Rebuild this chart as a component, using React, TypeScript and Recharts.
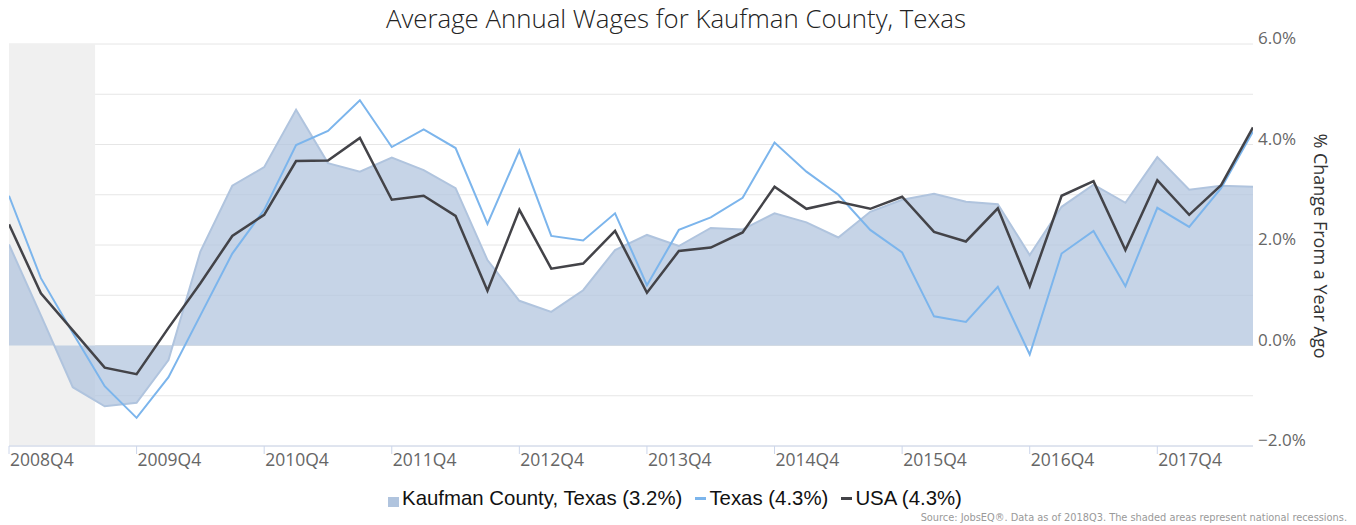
import React from 'react';
import { ComposedChart, Area, Line, XAxis, YAxis, CartesianGrid, ReferenceArea } from 'recharts';

const quarters = [
  '2008Q4',
  '2009Q1', '2009Q2', '2009Q3', '2009Q4',
  '2010Q1', '2010Q2', '2010Q3', '2010Q4',
  '2011Q1', '2011Q2', '2011Q3', '2011Q4',
  '2012Q1', '2012Q2', '2012Q3', '2012Q4',
  '2013Q1', '2013Q2', '2013Q3', '2013Q4',
  '2014Q1', '2014Q2', '2014Q3', '2014Q4',
  '2015Q1', '2015Q2', '2015Q3', '2015Q4',
  '2016Q1', '2016Q2', '2016Q3', '2016Q4',
  '2017Q1', '2017Q2', '2017Q3', '2017Q4',
  '2018Q1', '2018Q2', '2018Q3',
];

const kaufman = [
  2.01, 0.6, -0.83, -1.21, -1.14, -0.29, 1.87, 3.18, 3.55, 4.69,
  3.63, 3.46, 3.74, 3.49, 3.13, 1.7, 0.89, 0.67, 1.1, 1.9,
  2.2, 1.98, 2.34, 2.31, 2.63, 2.45, 2.15, 2.66, 2.9, 3.02,
  2.86, 2.81, 1.8, 2.76, 3.2, 2.84, 3.75, 3.1, 3.18, 3.16,
];

const texas = [
  2.98, 1.34, 0.25, -0.81, -1.44, -0.63, 0.6, 1.83, 2.7, 3.99,
  4.27, 4.88, 3.95, 4.3, 3.93, 2.42, 3.88, 2.18, 2.09, 2.63,
  1.2, 2.3, 2.55, 2.94, 4.04, 3.46, 3.0, 2.3, 1.85, 0.58,
  0.47, 1.17, -0.18, 1.83, 2.28, 1.18, 2.74, 2.36, 3.13, 4.26,
];

const usa = [
  2.41, 1.04, 0.3, -0.44, -0.57, 0.35, 1.24, 2.18, 2.6, 3.67,
  3.68, 4.13, 2.9, 2.98, 2.58, 1.09, 2.7, 1.53, 1.63, 2.28,
  1.05, 1.88, 1.95, 2.25, 3.16, 2.72, 2.86, 2.72, 2.96, 2.26,
  2.07, 2.73, 1.18, 2.98, 3.27, 1.9, 3.29, 2.6, 3.19, 4.34,
];

const xTicks = [0, 4, 8, 12, 16, 20, 24, 28, 32, 36];
const yTicks = [-2, -1, 0, 1, 2, 3, 4, 5, 6];
const yLabelTicks = [-2, 0, 2, 4, 6];
const recessionBand = [0, 2.7];

const seriesNames = ['Kaufman County, Texas (3.2%)', 'Texas (4.3%)', 'USA (4.3%)'];
const seriesColors = ['#b0c4de', '#7cb5ec', '#434348'];
const titleText = 'Average Annual Wages for Kaufman County, Texas';
const yAxisTitle = '% Change From a Year Ago';
const sourceText = 'Source: JobsEQ\u00AE. Data as of 2018Q3. The shaded areas represent national recessions.';

const data = quarters.map((q, i) => ({
  idx: i,
  q,
  kaufman: kaufman[i],
  texas: texas[i],
  usa: usa[i],
}));

const axisFont = "'Open Sans', sans-serif";

const fmtPct = (v: number) => (v < 0 ? '\u2212' : '') + Math.abs(v).toFixed(1) + '%';

function XTick(props: any) {
  const { x, y, payload } = props;
  return (
    <text x={x + 1} y={y + 12} fill="#666666" fontSize={17.5} fontFamily={axisFont} textAnchor="start">
      {quarters[payload.value]}
    </text>
  );
}

function YTick(props: any) {
  const { x, y, payload } = props;
  if (!yLabelTicks.includes(payload.value)) return <g />;
  return (
    <text x={x} y={y} fill="#666666" fontSize={17} fontFamily={axisFont} textAnchor="start">
      {fmtPct(payload.value)}
    </text>
  );
}

function LegendItem({ idx }: { idx: number }) {
  const marker =
    idx === 0 ? (
      <span style={{ display: 'inline-block', width: 11, height: 10, background: seriesColors[0], marginRight: 3, marginTop: 8 }} />
    ) : (
      <span style={{ display: 'inline-block', width: 11, height: 3, background: seriesColors[idx], marginRight: 3 }} />
    );
  return (
    <div style={{ display: 'flex', alignItems: 'center', marginRight: idx < 2 ? 13 : 0 }}>
      {marker}
      <span>{seriesNames[idx]}</span>
    </div>
  );
}

export default function App() {
  return (
    <div style={{ position: 'absolute', left: 0, top: 0, width: 1356, height: 525, background: '#ffffff', overflow: 'hidden' }}>
      <div
        style={{
          position: 'absolute',
          left: 0,
          top: 0,
          width: 1356,
          textAlign: 'center',
          fontFamily: axisFont,
          fontSize: 25.8,
          fontWeight: 300,
          color: '#222222',
          lineHeight: '36px',
          marginLeft: -2,
        }}
      >
        {titleText}
      </div>
      <ComposedChart width={1356} height={525} data={data} margin={{ top: 44, right: 0, bottom: 49, left: 9 }}>
        <CartesianGrid horizontal={true} vertical={false} stroke="#e6e6e6" strokeWidth={1} />
        <ReferenceArea
          x1={recessionBand[0]}
          x2={recessionBand[1]}
          y1={-2}
          y2={6}
          fill="#f0f0f0"
          fillOpacity={1}
          stroke="none"
          ifOverflow="hidden"
        />
        <XAxis
          dataKey="idx"
          type="number"
          domain={[0, 39]}
          ticks={xTicks}
          interval={0}
          height={30}
          axisLine={{ stroke: '#ccd6eb', strokeWidth: 1 }}
          tickLine={{ stroke: '#ccd6eb', strokeWidth: 1 }}
          tickSize={8}
          tickMargin={0}
          tick={<XTick />}
          allowDataOverflow
        />
        <YAxis
          orientation="right"
          type="number"
          domain={[-2, 6]}
          ticks={yTicks}
          interval={0}
          width={103}
          axisLine={false}
          tickLine={false}
          tickSize={0}
          tickMargin={5}
          tick={<YTick />}
          allowDataOverflow
        />
        <Area
          type="linear"
          dataKey="kaufman"
          stroke={seriesColors[0]}
          strokeWidth={2}
          fill={seriesColors[0]}
          fillOpacity={0.72}
          baseValue={0}
          dot={false}
          activeDot={false}
          isAnimationActive={false}
        />
        <Line
          type="linear"
          dataKey="texas"
          stroke={seriesColors[1]}
          strokeWidth={2}
          dot={false}
          activeDot={false}
          isAnimationActive={false}
        />
        <Line
          type="linear"
          dataKey="usa"
          stroke={seriesColors[2]}
          strokeWidth={2.5}
          dot={false}
          activeDot={false}
          isAnimationActive={false}
        />
      </ComposedChart>
      <div
        style={{
          position: 'absolute',
          left: 1321,
          top: 246,
          transform: 'translate(-50%, -50%) rotate(90deg)',
          whiteSpace: 'nowrap',
          fontFamily: axisFont,
          fontSize: 18,
          color: '#333333',
          lineHeight: '20px',
        }}
      >
        {yAxisTitle}
      </div>
      <div
        style={{
          position: 'absolute',
          left: -3,
          top: 485,
          width: 1356,
          display: 'flex',
          justifyContent: 'center',
          fontFamily: "'Liberation Sans', Arial, sans-serif",
          fontSize: 20.4,
          color: '#111111',
          lineHeight: '26px',
        }}
      >
        <LegendItem idx={0} />
        <LegendItem idx={1} />
        <LegendItem idx={2} />
      </div>
      <div
        style={{
          position: 'absolute',
          right: 9,
          top: 511,
          whiteSpace: 'nowrap',
          fontFamily: "'DejaVu Sans Condensed', 'DejaVu Sans', sans-serif",
          fontStretch: 'condensed',
          fontSize: 10.9,
          color: '#999999',
          lineHeight: '14px',
        }}
      >
        {sourceText}
      </div>
    </div>
  );
}
